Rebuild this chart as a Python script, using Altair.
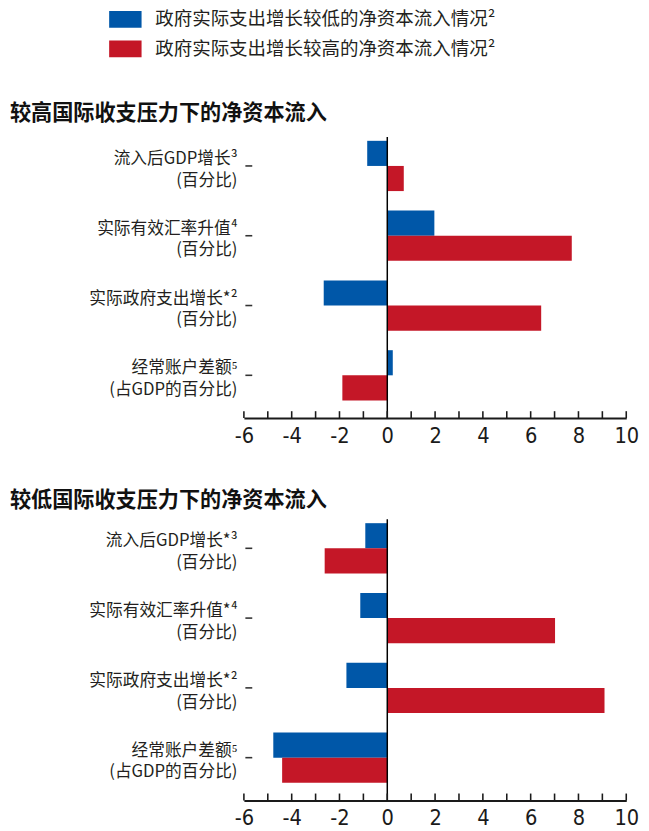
import altair as alt
import pandas as pd

series = ["政府实际支出增长较低的净资本流入情况²", "政府实际支出增长较高的净资本流入情况²"]
colors = ["#0057A8", "#C41727"]

cats_high = ["流入后GDP增长³\n(百分比)", "实际有效汇率升值⁴\n(百分比)",
             "实际政府支出增长*²\n(百分比)", "经常账户差额⁵\n(占GDP的百分比)"]
cats_low = ["流入后GDP增长*³\n(百分比)", "实际有效汇率升值*⁴\n(百分比)",
            "实际政府支出增长*²\n(百分比)", "经常账户差额⁵\n(占GDP的百分比)"]

high_pressure_low_spend = [-0.84, 1.97, -2.66, 0.23]
high_pressure_high_spend = [0.69, 7.72, 6.44, -1.88]
low_pressure_low_spend = [-0.92, -1.13, -1.71, -4.77]
low_pressure_high_spend = [-2.62, 7.02, 9.09, -4.40]

panel_titles = ["较高国际收支压力下的净资本流入", "较低国际收支压力下的净资本流入"]
x_labels = [-6, -4, -2, 0, 2, 4, 6, 8, 10]
x_minor = [-6, -5, -4, -3, -2, -1, 0, 1, 2, 3, 4, 5, 6, 7, 8, 9, 10]
zero_line = [0]

W, H = 389, 286
CJK = "Noto Sans CJK SC"
NUM = "Liberation Sans Narrow, DejaVu Sans Condensed, Liberation Sans"


def x_enc():
    return alt.X("value:Q",
                 scale=alt.Scale(domain=[-6, 10], nice=False, zero=False),
                 axis=alt.Axis(values=x_labels, ticks=False, grid=False, title=None,
                               domainColor="#1a1a1a", domainWidth=2,
                               labelFont=NUM, labelFontSize=22, labelColor="#1a1a1a",
                               labelExpr="toString(datum.value)",
                               labelPadding=8, labelFlush=False))


def panel(cats, low_vals, high_vals, title, title_offset):
    rows = []
    for c, lv, hv in zip(cats, low_vals, high_vals):
        rows.append({"cat": c, "series": series[0], "value": lv})
        rows.append({"cat": c, "series": series[1], "value": hv})
    df = pd.DataFrame(rows)
    bars = alt.Chart(df).mark_bar().encode(
        x=x_enc(),
        y=alt.Y("cat:N", sort=cats,
                scale=alt.Scale(paddingInner=0.28, paddingOuter=0.154, align=0.18),
                axis=alt.Axis(title=None, domain=False, tickSize=7, tickColor="#333",
                              tickWidth=1.6, offset=-8, labelPadding=8,
                              labelExpr="split(datum.label, '\\n')",
                              labelFont=CJK, labelFontSize=17, labelLineHeight=22,
                              labelOffset=-7,
                              labelColor="#231F20", labelAlign="right",
                              labelBaseline="middle", labelLimit=0)),
        yOffset=alt.YOffset("series:N", sort=series,
                            scale=alt.Scale(paddingInner=0, paddingOuter=0)),
        color=alt.Color("series:N", sort=series,
                        scale=alt.Scale(domain=series, range=colors),
                        legend=alt.Legend(title=None, orient="none", legendX=-130, legendY=-129,
                                          symbolType="M-1.94,-1H1.94V1H-1.94Z",
                                          symbolSize=289, symbolStrokeWidth=0,
                                          labelFont=CJK, labelFontSize=18.8,
                                          labelColor="#231F20", labelLimit=0,
                                          labelOffset=21, rowPadding=10)),
    )
    zero = alt.Chart(pd.DataFrame({"value": zero_line})).mark_rule(
        color="black", strokeWidth=1.5).encode(x=x_enc())
    ticks = alt.Chart(pd.DataFrame({"value": x_minor})).mark_rule(
        color="#1a1a1a", strokeWidth=1.6).encode(
        x=x_enc(), y=alt.value(H - 7), y2=alt.value(H))
    return alt.layer(bars, zero, ticks).properties(
        width=W, height=H,
        title=alt.TitleParams(title, anchor="start", frame="group", dx=-238,
                              font=CJK, fontSize=21.5, fontWeight="bold",
                              color="#111", offset=title_offset),
    )


chart = alt.vconcat(
    panel(cats_high, high_pressure_low_spend, high_pressure_high_spend, panel_titles[0], 12),
    panel(cats_low, low_pressure_low_spend, low_pressure_high_spend, panel_titles[1], 7),
    spacing=44,
).properties(
    padding={"left": 2, "top": -5, "right": 2, "bottom": 0}
).configure_view(stroke=None)

chart.save("out.html", embed_options={"renderer": "svg", "actions": False})
